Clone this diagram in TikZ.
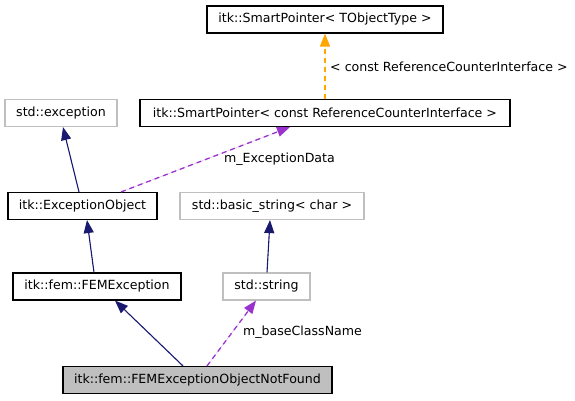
\documentclass[tikz,border=0pt]{standalone}
\usepackage{fontspec}
\setmainfont{DejaVu Sans}
\usetikzlibrary{arrows.meta}
\definecolor{edgeblue}{HTML}{191970}
\definecolor{edgepurple}{HTML}{9A32CD}
\definecolor{edgeorange}{HTML}{FFA500}
\definecolor{boxgray}{HTML}{BFBFBF}
\tikzset{
  cls/.style={draw=black, line width=1.1bp, rectangle, inner sep=0pt, minimum height=27bp,
    font=\fontsize{12.6bp}{15bp}\selectfont, text=black},
  ext/.style={cls, draw=boxgray},
  cur/.style={cls, fill=boxgray},
  lbl/.style={inner sep=0pt, font=\fontsize{12.6bp}{15bp}\selectfont, text=black},
  tip/.style={-{Triangle[length=13bp,width=10bp]}},
  inherit/.style={tip, draw=edgeblue, fill=edgeblue, line width=1.1bp},
  usage/.style={tip, draw=edgepurple, fill=edgepurple, line width=1.3bp, dash pattern=on 5bp off 4bp},
  tmpl/.style={tip, draw=edgeorange, fill=edgeorange, line width=1.3bp, dash pattern=on 5bp off 4bp},
}
\begin{document}
\begin{tikzpicture}[x=1bp,y=-1bp]
\useasboundingbox (0,0) rectangle (575,400);
% nodes
\node[cls, minimum width=236bp] (spT) at (325,19.5) {itk::SmartPointer< TObjectType >};
\node[cls, minimum width=370bp] (spC) at (325,113) {itk::SmartPointer< const ReferenceCounterInterface >};
\node[ext, minimum width=112bp] (stdexc) at (61,113) {std::exception};
\node[cls, minimum width=149bp] (excObj) at (82.5,206) {itk::ExceptionObject};
\node[ext, minimum width=184bp] (basic) at (272,206) {std::basic\_string< char >};
\node[cls, minimum width=168bp] (femExc) at (97,286.5) {itk::fem::FEMException};
\node[ext, minimum width=87bp] (stdstr) at (266.5,286.5) {std::string};
\node[cur, minimum width=269bp] (final) at (197.5,380) {itk::fem::FEMExceptionObjectNotFound};
% labels
\node[lbl, anchor=west] (l1) at (330,67) {< const ReferenceCounterInterface >};
\node[lbl] (l2) at (279.5,159) {m\_ExceptionData};
\node[lbl] (l3) at (302.5,332) {m\_baseClassName};
% edges
\draw[tmpl] (spC.north) -- (spT.south);
\draw[inherit] ([xshift=-3.5bp]excObj.north) -- ([xshift=2bp]stdexc.south);
\draw[usage] ([xshift=38.5bp]excObj.north) -- ([xshift=-35bp]spC.south);
\draw[inherit] ([xshift=-3bp]femExc.north) -- ([xshift=4.5bp]excObj.south);
\draw[inherit] ([xshift=0.5bp]stdstr.north) -- ([xshift=-2bp]basic.south);
\draw[inherit] ([xshift=-14.5bp]final.north) -- ([xshift=18bp]femExc.south);
\draw[usage] ([xshift=9.5bp]final.north) -- ([xshift=-10.5bp]stdstr.south);
\end{tikzpicture}
\end{document}
